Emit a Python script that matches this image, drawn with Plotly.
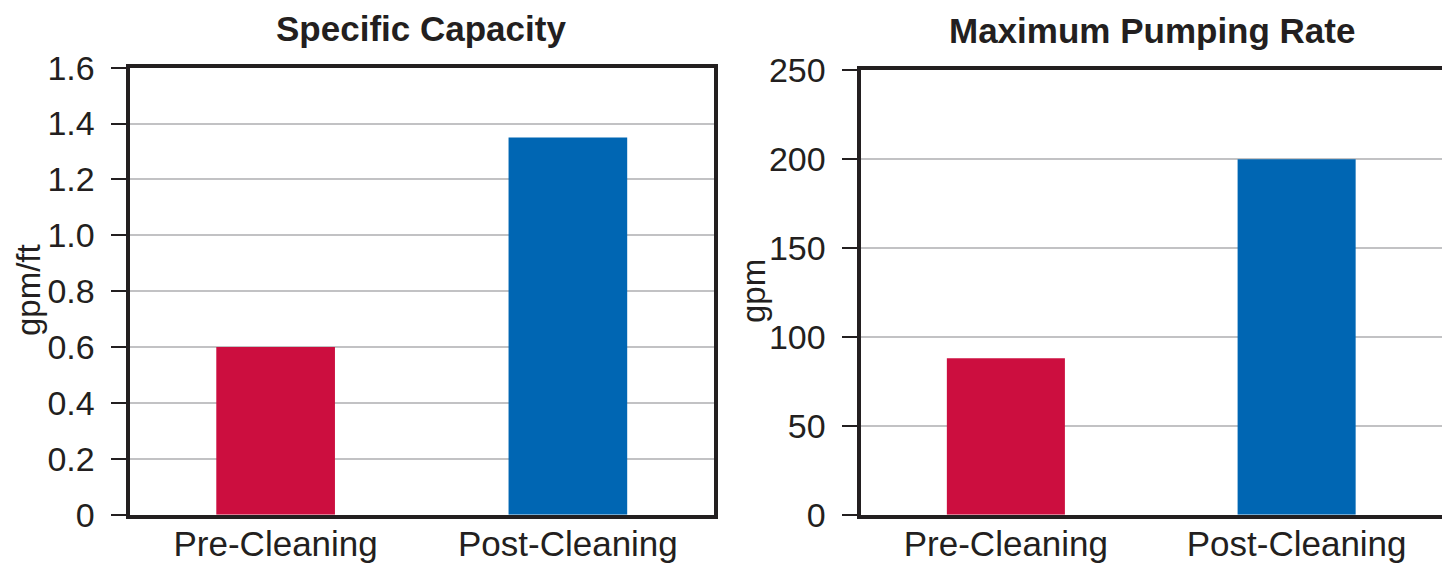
import plotly.graph_objects as go

categories = ["Pre-Cleaning", "Post-Cleaning"]
specific_capacity = [0.60, 1.35]      # gpm/ft
max_pumping_rate = [88, 200]          # gpm
bar_colors = ["#CC0E3F", "#0066B3"]

sc_tickvals = [0, 0.2, 0.4, 0.6, 0.8, 1.0, 1.2, 1.4, 1.6]
sc_ticktext = ["0", "0.2", "0.4", "0.6", "0.8", "1.0", "1.2", "1.4", "1.6"]
pr_tickvals = [0, 50, 100, 150, 200, 250]
pr_ticktext = ["0", "50", "100", "150", "200", "250"]

titles = ["Specific Capacity", "Maximum Pumping Rate"]
y_titles = ["gpm/ft", "gpm"]

FONT = "Liberation Sans, Arial, Helvetica, sans-serif"
TXT = "#231f20"

# page body has an 8px default margin, so the figure is sized/positioned for it
W, H = 1442, 558

fig = go.Figure()
fig.add_trace(go.Bar(x=categories, y=specific_capacity, marker_color=bar_colors,
                     marker_line_width=0, width=0.406, xaxis="x", yaxis="y",
                     showlegend=False))
fig.add_trace(go.Bar(x=categories, y=max_pumping_rate, marker_color=bar_colors,
                     marker_line_width=0, width=0.406, xaxis="x2", yaxis="y2",
                     showlegend=False))

axis_common = dict(showline=True, linecolor="#231f20", linewidth=4, mirror=True,
                   automargin=False)
xcommon = dict(axis_common, ticks="", tickfont=dict(size=35, color=TXT, family=FONT),
               ticklabelstandoff=-5, showgrid=False)
ycommon = dict(axis_common, ticks="outside", ticklen=15, tickwidth=2, tickcolor="#231f20",
               ticklabelstandoff=9,
               tickfont=dict(size=34, color=TXT, family=FONT), showgrid=True,
               gridcolor="#c2c2c4", gridwidth=2, zeroline=False)

fig.update_layout(
    width=W, height=H,
    margin=dict(l=0, r=0, t=0, b=0),
    paper_bgcolor="white", plot_bgcolor="white",
    font=dict(family=FONT, color=TXT),
    xaxis=dict(xcommon, domain=[121.5 / W, 706 / W], anchor="y"),
    yaxis=dict(ycommon, domain=[1 - 506.7 / H, 1 - 59.7 / H], anchor="x", range=[0, 1.6],
               tickvals=sc_tickvals, ticktext=sc_ticktext),
    xaxis2=dict(xcommon, domain=[852.5 / W, 1434 / W], anchor="y2"),
    yaxis2=dict(ycommon, domain=[1 - 506.7 / H, 1 - 62.3 / H], anchor="x2", range=[0, 250],
                tickvals=pr_tickvals, ticktext=pr_ticktext),
    annotations=[
        dict(text="<b>" + titles[0] + "</b>", x=413 / W, y=1 - 20 / H,
             xref="paper", yref="paper", xanchor="center", yanchor="middle",
             borderpad=0,
             showarrow=False, font=dict(size=35, color=TXT, family=FONT)),
        dict(text="<b>" + titles[1] + "</b>", x=1144 / W, y=1 - 22 / H,
             xref="paper", yref="paper", xanchor="center", yanchor="middle",
             borderpad=0,
             showarrow=False, font=dict(size=35, color=TXT, family=FONT)),
        dict(text=y_titles[0], x=20 / W, y=1 - 282 / H, xref="paper", yref="paper",
             xanchor="center", yanchor="middle",
             textangle=-90, showarrow=False, font=dict(size=33, color=TXT, family=FONT)),
        dict(text=y_titles[1], x=745 / W, y=1 - 283 / H, xref="paper", yref="paper",
             xanchor="center", yanchor="middle",
             textangle=-90, showarrow=False, font=dict(size=33, color=TXT, family=FONT)),
    ],
)

fig.write_html("out.html")
